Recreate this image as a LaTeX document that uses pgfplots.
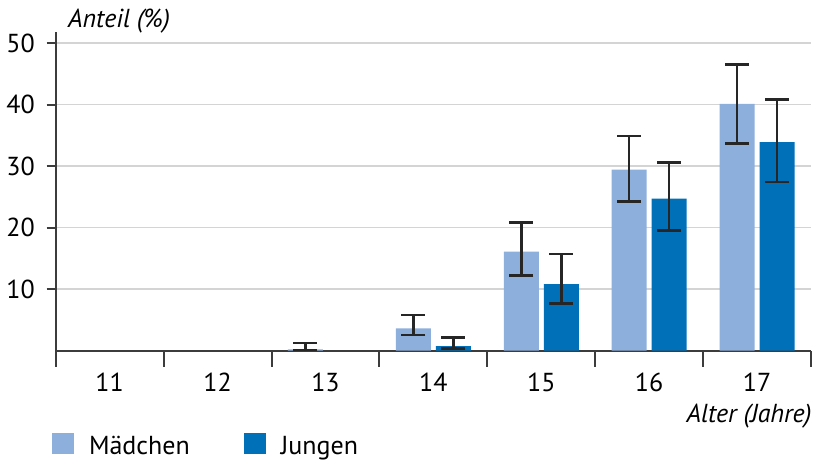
\documentclass[border=0pt]{standalone}
\usepackage{fontspec}
\setmainfont{PT Sans}
\usepackage{pgfplots}
\pgfplotsset{compat=1.18}
\definecolor{lightb}{RGB}{141,175,220}
\definecolor{darkb}{RGB}{0,112,185}
\definecolor{axc}{RGB}{60,60,60}
\pgfplotsset{myerr/.style={error bars/.cd, y dir=both, y explicit,
  error bar style={line width=1.3pt, black!85},
  error mark options={rotate=90, mark size=6pt, line width=1.3pt, black!85}}}
\begin{document}
\begin{tikzpicture}
\begin{axis}[
  name=ax,
  scale only axis,
  width=377.65pt, height=159.25pt,
  xmin=10.5, xmax=17.5, ymin=0, ymax=51.8,
  axis x line=bottom, axis y line=left,
  axis line style={-, line width=1pt, axc},
  xtick={11,...,17},
  minor xtick={10.5,11.5,...,17.5},
  major x tick style={draw=none},
  minor x tick style={line width=1pt, axc},
  minor tick length=8pt,
  ytick={10,20,30,40,50},
  major y tick style={line width=1pt, axc},
  major tick length=4.5pt,
  tick align=outside,
  ymajorgrids,
  grid style={line width=0.8pt, black!17},
  font=\fontsize{13pt}{15pt}\selectfont,
  /pgf/number format/assume math mode=true,
  xticklabel style={inner sep=0pt, anchor=north, yshift=-6.5pt},
  yticklabel style={inner sep=0pt, anchor=east, xshift=-5.8pt},
  every axis y label/.style={at={(axis description cs:0,1)}, anchor=base west, xshift=6pt, yshift=2pt, inner sep=0pt},
  every axis x label/.style={at={(axis description cs:1,0)}, anchor=base east, yshift=-36pt, xshift=0.5pt, inner sep=0pt},
  ylabel={\itshape Anteil (\%)},
  xlabel={\itshape Alter (Jahre)},
  ybar=2.5pt, bar width=17.5pt,
  legend style={at={(axis description cs:0,0)}, anchor=north west, xshift=-1.85pt, yshift=-41pt, draw=none, fill=none, inner sep=0pt, outer sep=0pt, nodes={inner sep=0pt}, font=\fontsize{13pt}{15pt}\selectfont},
  legend columns=2,
  legend cell align=left,
  /tikz/every even column/.append style={column sep=27pt},
  legend image code/.code={\fill[#1] (0pt,-3.5pt) rectangle (11pt,7pt); \path (18.5pt,0pt);},
]
\addplot[fill=lightb, draw=none, myerr] coordinates {
  (13,0.2) += (0,1.0) -= (0,0.2)
  (14,3.6) += (0,2.2) -= (0,1.1)
  (15,16.1) += (0,4.7) -= (0,3.9)
  (16,29.4) += (0,5.5) -= (0,5.2)
  (17,40.1) += (0,6.4) -= (0,6.4)
};
\addplot[fill=darkb, draw=none, myerr] coordinates {
  (14,0.7) += (0,1.4) -= (0,0.4)
  (15,10.8) += (0,4.9) -= (0,3.2)
  (16,24.7) += (0,5.9) -= (0,5.2)
  (17,33.9) += (0,6.9) -= (0,6.5)
};
\legend{Mädchen, Jungen}
\end{axis}
\pgfresetboundingbox
\path ([xshift=-27.85pt,yshift=-54.25pt]ax.south west) rectangle ([xshift=1.5pt,yshift=16pt]ax.north east);
\end{tikzpicture}
\end{document}
